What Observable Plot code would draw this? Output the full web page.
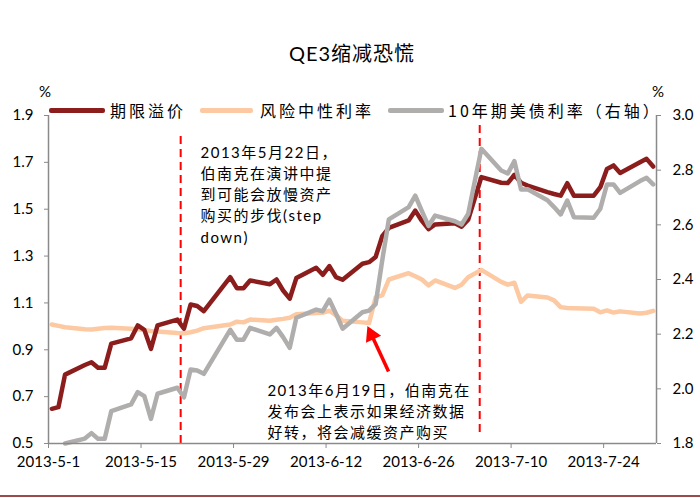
<!DOCTYPE html>
<html><head><meta charset="utf-8">
<script src="https://cdn.jsdelivr.net/npm/d3@7"></script>
<script src="https://cdn.jsdelivr.net/npm/@observablehq/plot@0.6"></script>
<style>
body{margin:0;background:#fff;}
#wrap{position:relative;width:700px;height:498px;overflow:hidden;background:#fff;font-family:Lato,"Noto Sans CJK SC",sans-serif;}
#wrap svg{position:absolute;left:0;top:0;}
#title{position:absolute;left:0;width:704px;top:38px;text-align:center;font-size:20px;letter-spacing:1px;color:#000;}
.pct{position:absolute;top:82px;font-size:15px;color:#000;}
.lg{position:absolute;top:100px;height:20px;}
.sw{position:absolute;top:8px;height:5px;border-radius:2px;}
.lt{position:absolute;top:0;font-family:"Noto Sans CJK SC",sans-serif;font-size:16px;line-height:20px;letter-spacing:3px;white-space:nowrap;color:#000;}
#bottomline{position:absolute;left:0;top:495px;width:700px;height:2px;background:#9c4a4a;}
text[aria-label="anno"],[aria-label="anno"] text,.anno text{letter-spacing:1.5px;}
</style></head><body>
<div id="wrap"><div id="title">QE3缩减恐慌</div><div class="pct" style="left:39px">%</div><div class="pct" style="left:652px">%</div><div id="bottomline"></div></div>
<script>
// ---- data ----
const dates = ["2013-05-01","2013-05-02","2013-05-03","2013-05-06","2013-05-07","2013-05-08","2013-05-09","2013-05-10","2013-05-13","2013-05-14","2013-05-15","2013-05-16","2013-05-17","2013-05-20","2013-05-21","2013-05-22","2013-05-23","2013-05-24","2013-05-28","2013-05-29","2013-05-30","2013-05-31","2013-06-03","2013-06-04","2013-06-05","2013-06-06","2013-06-07","2013-06-10","2013-06-11","2013-06-12","2013-06-13","2013-06-14","2013-06-17","2013-06-18","2013-06-19","2013-06-20","2013-06-21","2013-06-24","2013-06-25","2013-06-26","2013-06-27","2013-06-28","2013-07-01","2013-07-02","2013-07-03","2013-07-05","2013-07-08","2013-07-09","2013-07-10","2013-07-11","2013-07-12","2013-07-15","2013-07-16","2013-07-17","2013-07-18","2013-07-19","2013-07-22","2013-07-23","2013-07-24","2013-07-25","2013-07-26","2013-07-29","2013-07-30","2013-07-31"];
// 期限溢价 (left axis)
const termPremium = [0.648,0.655,0.794,0.835,0.847,0.823,0.823,0.926,0.949,1.004,0.985,0.904,1.004,1.029,0.990,1.093,1.087,1.065,1.210,1.163,1.163,1.196,1.180,1.200,1.153,1.118,1.206,1.250,1.220,1.257,1.210,1.199,1.267,1.274,1.296,1.385,1.420,1.452,1.494,1.450,1.415,1.435,1.440,1.425,1.455,1.637,1.613,1.612,1.647,1.613,1.601,1.573,1.565,1.558,1.611,1.558,1.558,1.594,1.672,1.687,1.655,1.700,1.715,1.682];
// 风险中性利率 (left axis)
const riskNeutral = [1.008,1.002,0.996,0.988,0.987,0.990,0.993,0.994,0.990,0.988,0.984,0.980,0.978,0.972,0.971,0.975,0.982,0.992,1.008,1.020,1.017,1.029,1.024,1.028,1.032,1.037,1.052,1.057,1.058,1.067,1.047,1.024,1.017,1.014,1.124,1.132,1.200,1.227,1.214,1.200,1.175,1.196,1.164,1.178,1.210,1.241,1.190,1.178,1.186,1.105,1.132,1.123,1.111,1.082,1.078,1.077,1.075,1.060,1.068,1.059,1.064,1.055,1.058,1.066];
// 10年期美债利率 (right axis); first two days lie below the axis minimum
const yield10y = [null,null,1.800,1.818,1.838,1.817,1.817,1.918,1.943,1.988,1.973,1.890,1.982,2.004,1.969,2.071,2.067,2.055,2.216,2.180,2.180,2.223,2.199,2.223,2.189,2.150,2.260,2.290,2.284,2.326,2.275,2.220,2.280,2.286,2.310,2.470,2.620,2.665,2.707,2.650,2.596,2.634,2.613,2.601,2.640,2.878,2.799,2.788,2.833,2.729,2.730,2.690,2.665,2.638,2.689,2.628,2.626,2.659,2.748,2.748,2.717,2.760,2.772,2.748];

const xTicks = ["2013-05-01","2013-05-15","2013-05-29","2013-06-12","2013-06-26","2013-07-10","2013-07-24"];
const leftTicks = [0.5,0.7,0.9,1.1,1.3,1.5,1.7,1.9];
const rightTicks = [1.8,2.0,2.2,2.4,2.6,2.8,3.0];
const seriesNames = ["期限溢价","风险中性利率","10年期美债利率（右轴）"];
const seriesColors = ["#8c1d1d","#fcc9a2","#b0adad"];
const eventLines = [
  {date:"2013-05-21", top:1.827, bottom:0.5},
  {date:"2013-07-05T06:00", top:1.87, bottom:0.547}
];
const notes = [
  {date:"2013-05-24", y:1.785, text:"2013年5月22日，\n伯南克在演讲中提\n到可能会放慢资产\n购买的步伐(step\ndown)"},
  {date:"2013-06-03T03:00", y:0.769, text:"2013年6月19日，伯南克在\n发布会上表示如果经济数据\n好转，将会减缓资产购买"}
];
const arrowTail = {date:"2013-06-21T11:00", y:0.807};
const arrowHead = {date:"2013-06-18T21:00", y:0.964, angle:-25};

// ---- build ----
const parse = s => new Date(s.length > 10 ? s + "Z" : s + "T00:00Z");
const halfDay = 12 * 3600 * 1000;
const rows = dates.map((d, i) => ({date: new Date(parse(d).getTime() + halfDay), tp: termPremium[i], rn: riskNeutral[i], y10: yield10y[i]}));
const toLeft = v => 0.5 + (v - 1.8) * (1.4 / 1.2);
const fromLeft = v => 1.8 + (v - 0.5) * (1.2 / 1.4);
const xStart = parse("2013-05-01"), xEnd = parse("2013-08-01");
const fmt = d3.utcFormat("%Y-%-m-%-d");
const axisColor = "#8a8a8a";

const chart = Plot.plot({
  width: 700, height: 498,
  marginTop: 115, marginBottom: 55, marginLeft: 48, marginRight: 44,
  x: {type: "utc", domain: [xStart, xEnd]},
  y: {domain: [0.5, 1.9]},
  style: {fontFamily: 'Lato, "Noto Sans CJK SC", sans-serif', fontSize: "15px", color: "#000", background: "transparent", overflow: "visible"},
  marks: [
    Plot.ruleX(eventLines, {x: d => parse(d.date), y1: "bottom", y2: "top", stroke: "#ff0000", strokeWidth: 2, strokeDasharray: "8,5"}),
    Plot.line(rows, {x: "date", y: "rn", stroke: seriesColors[1], strokeWidth: 4.5}),
    Plot.line(rows, {x: "date", y: "tp", stroke: seriesColors[0], strokeWidth: 4.5}),
    Plot.line(rows, {x: "date", y: d => d.y10 == null ? NaN : toLeft(d.y10), stroke: seriesColors[2], strokeWidth: 4.5}),
    Plot.ruleY([0.5], {stroke: axisColor, strokeWidth: 1.5}),
    Plot.ruleX([xStart, xEnd], {stroke: axisColor, strokeWidth: 1.5}),
    Plot.axisY({ticks: leftTicks, tickFormat: d3.format(".1f"), tickSize: 4, tickPadding: 11, stroke: axisColor, fill: "#000", label: null}),
    Plot.axisY({anchor: "right", ticks: rightTicks.map(toLeft), tickFormat: v => fromLeft(v).toFixed(1), tickSize: 4, tickPadding: 12, stroke: axisColor, fill: "#000", label: null}),
    Plot.axisX({ticks: xTicks.map(parse), tickFormat: fmt, tickSize: 5, tickPadding: 8, stroke: axisColor, fill: "#000", label: null}),
    Plot.text(notes, {x: d => parse(d.date), y: "y", text: "text", textAnchor: "start", lineAnchor: "top", lineHeight: 1.42, fontSize: 15, fill: "#000", fontFamily: 'Lato, "Noto Sans CJK SC", sans-serif', ariaLabel: "anno", className: "anno"}),
    Plot.link([{}], {x1: () => parse(arrowTail.date), y1: () => arrowTail.y, x2: () => parse(arrowHead.date), y2: () => arrowHead.y, stroke: "#ff0000", strokeWidth: 3.5}),
    Plot.dot([arrowHead], {x: d => parse(d.date), y: "y", symbol: "triangle", r: 6.2, fill: "#ff0000", stroke: "none", rotate: "angle"})
  ]
});
const wrap = document.getElementById("wrap");
wrap.insertBefore(chart, wrap.firstChild);

// legend (HTML, above the plot area)
const legendPos = [{sw: 49, swW: 56, tx: 110}, {sw: 200, swW: 53, tx: 260}, {sw: 388, swW: 56, tx: 448}];
seriesNames.forEach((name, i) => {
  const g = document.createElement("div");
  g.className = "lg";
  g.innerHTML = `<div class="sw" style="left:${legendPos[i].sw}px;width:${legendPos[i].swW}px;background:${seriesColors[i]}"></div><div class="lt" style="left:${legendPos[i].tx}px">${name}</div>`;
  wrap.appendChild(g);
});
</script>
</body></html>
